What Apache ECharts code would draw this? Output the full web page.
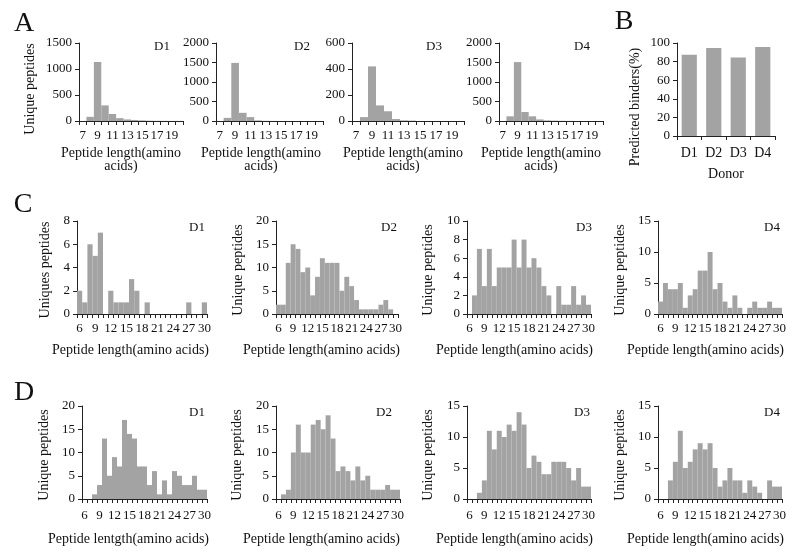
<!DOCTYPE html>
<html><head><meta charset="utf-8">
<script src="https://cdn.jsdelivr.net/npm/echarts@6/dist/echarts.min.js"></script>
<style>html,body{margin:0;padding:0;background:#fff}#c{width:800px;height:553px}</style>
</head><body><div id="c"></div>
<script>
// ---------- DATA ----------
const lengthsA = ['7','8','9','10','11','12','13','14','15','16','17','18','19','20'];
const lengthsCD = ['6','7','8','9','10','11','12','13','14','15','16','17','18','19','20','21','22','23','24','25','26','27','28','29','30'];
const donors = ['D1','D2','D3','D4'];

// Panel A: all peptides per length
const aD1 = [0, 80, 1135, 300, 135, 55, 30, 20, 12, 6, 4, 3, 2, 2];
const aD2 = [0, 80, 1490, 210, 100, 15, 5, 3, 0, 0, 0, 0, 0, 0];
const aD3 = [0, 30, 420, 120, 75, 15, 5, 3, 0, 0, 0, 0, 0, 0];
const aD4 = [0, 120, 1510, 230, 120, 40, 15, 10, 5, 3, 0, 0, 0, 0];

// Panel B: predicted binders (%)
const binders = [87.5, 94.6, 84.3, 95.7];

// Panel C
const cD1 = [2,1,6,5,7,0,2,1,1,1,3,2,0,1,0,0,0,0,0,0,0,1,0,0,1];
const cD2 = [2,2,11,15,14,9,10,4,8,12,11,11,11,5,8,6,3,1,1,1,1,2,3,1,0];
const cD3 = [0,2,7,3,7,3,5,5,5,8,5,8,5,6,5,3,2,0,3,1,1,3,1,2,1];
const cD4 = [2,5,4,4,5,1,3,4,7,7,10,4,5,2,1,3,1,0,1,2,1,1,2,1,1];

// Panel D
const dD1 = [0,0,1,3,13,5,9,7,17,14,13,7,7,3,6,1,4,1,6,5,3,3,5,2,2];
const dD2 = [0,1,2,10,16,10,10,16,17,15,18,13,6,7,6,4,7,4,5,2,2,2,3,2,2];
const dD3 = [0,0,1,3,11,8,11,10,12,11,14,12,5,7,6,4,4,6,6,6,5,3,5,2,2];
const dD4 = [0,0,3,6,11,5,6,8,9,8,9,5,2,3,5,3,3,1,3,2,1,0,3,2,2];

// Axis tick settings
const yMaxA = [1500, 2000, 600, 2000];
const yStepA = [500, 500, 200, 500];
const yMaxC = [8, 20, 10, 15];
const yStepC = [2, 5, 2, 5];
const yMaxD = [20, 20, 15, 15];
const yStepD = [5, 5, 5, 5];

// ---------- LAYOUT ----------
const FONT = "'Liberation Serif','Times New Roman',serif";
const BAR = '#a3a3a3';
const AX = '#222';
const panels = [
  // row A
  {l:79, t:43, w:104, h:78, cats:lengthsA, data:aD1, max:yMaxA[0], step:yStepA[0], li:1, m:8},
  {l:216, t:43, w:107, h:78, cats:lengthsA, data:aD2, max:yMaxA[1], step:yStepA[1], li:1, m:8},
  {l:352, t:43, w:112, h:78, cats:lengthsA, data:aD3, max:yMaxA[2], step:yStepA[2], li:1, m:8},
  {l:499, t:43, w:104, h:78, cats:lengthsA, data:aD4, max:yMaxA[3], step:yStepA[3], li:1, m:8},
  // B
  {l:677, t:43, w:98, h:93, cats:donors, data:binders, max:100, step:20, li:0, b:true, m:10},
  // row C
  {l:77, t:221, w:130, h:93, cats:lengthsCD, data:cD1, max:yMaxC[0], step:yStepC[0], li:2, m:8},
  {l:276, t:221, w:122, h:93, cats:lengthsCD, data:cD2, max:yMaxC[1], step:yStepC[1], li:2, m:8},
  {l:467, t:221, w:124, h:93, cats:lengthsCD, data:cD3, max:yMaxC[2], step:yStepC[2], li:2, m:8},
  {l:658, t:221, w:124, h:93, cats:lengthsCD, data:cD4, max:yMaxC[3], step:yStepC[3], li:2, m:8},
  // row D
  {l:82, t:406, w:125, h:93, cats:lengthsCD, data:dD1, max:yMaxD[0], step:yStepD[0], li:2, m:10},
  {l:276, t:406, w:124, h:93, cats:lengthsCD, data:dD2, max:yMaxD[1], step:yStepD[1], li:2, m:10},
  {l:467, t:406, w:124, h:93, cats:lengthsCD, data:dD3, max:yMaxD[2], step:yStepD[2], li:2, m:10},
  {l:658, t:406, w:124, h:93, cats:lengthsCD, data:dD4, max:yMaxD[3], step:yStepD[3], li:2, m:10}
];

const grid = [], xAxis = [], yAxis = [], series = [];
panels.forEach((p, i) => {
  grid.push({left:p.l, top:p.t, width:p.w, height:p.h, containLabel:false});
  xAxis.push({
    type:'category', gridIndex:i, data:p.cats, boundaryGap:true,
    axisLine:{show:true, lineStyle:{color:AX, width:1}},
    axisTick:{show:true, interval:0, length:4, alignWithLabel:false, lineStyle:{color:AX}},
    axisLabel:{interval:p.li, margin:p.m, color:'#111', fontFamily:FONT, fontSize: p.b ? 14 : 13, hideOverlap:false},
    splitLine:{show:false}
  });
  yAxis.push({
    type:'value', gridIndex:i, min:0, max:p.max, interval:p.step,
    axisLine:{show:true, lineStyle:{color:AX, width:1}},
    axisTick:{show:true, length:4, lineStyle:{color:AX}},
    axisLabel:{margin:7, color:'#111', fontFamily:FONT, fontSize:13, formatter: v => String(v)},
    splitLine:{show:false}
  });
  series.push({
    type:'bar', xAxisIndex:i, yAxisIndex:i, data:p.data,
    itemStyle:{color:BAR},
    barCategoryGap: p.b ? '38%' : '0%',
    silent:true, animation:false
  });
});

function txt(text, x, y, opt) {
  opt = opt || {};
  return {
    type:'text', x:x, y:y, rotation: opt.rot ? Math.PI/2 : 0, silent:true,
    style:{
      text:text, fill:'#111',
      font: (opt.size || 14) + 'px ' + FONT,
      align: opt.align || 'center', textAlign: opt.align || 'center',
      verticalAlign:'middle', textVerticalAlign:'middle',
      lineHeight: opt.lh || 14
    }
  };
}

const graphics = [
  // panel letters
  txt('A', 24, 24, {size:28}), txt('B', 624, 22, {size:28}),
  txt('C', 23, 205, {size:28}), txt('D', 24, 393, {size:28}),
  // donor tags
  txt('D1', 170, 47, {align:'right', size:13}), txt('D2', 310, 47, {align:'right', size:13}),
  txt('D3', 442, 47, {align:'right', size:13}), txt('D4', 590, 47, {align:'right', size:13}),
  txt('D1', 205, 228, {align:'right', size:13}), txt('D2', 397, 228, {align:'right', size:13}),
  txt('D3', 592, 228, {align:'right', size:13}), txt('D4', 780, 228, {align:'right', size:13}),
  txt('D1', 205, 413, {align:'right', size:13}), txt('D2', 392, 413, {align:'right', size:13}),
  txt('D3', 590, 413, {align:'right', size:13}), txt('D4', 780, 413, {align:'right', size:13}),
  // y titles
  txt('Unique peptides', 30, 89, {rot:true}),
  txt('Predicted binders(%)', 635, 107, {rot:true}),
  txt('Uniques peptides', 45, 270, {rot:true}),
  txt('Unique peptides', 238, 270, {rot:true}),
  txt('Unique peptides', 428, 270, {rot:true}),
  txt('Unique peptides', 620, 270, {rot:true}),
  txt('Unique peptides', 44, 455, {rot:true}),
  txt('Unique peptides', 237, 455, {rot:true}),
  txt('Unique peptides', 428, 455, {rot:true}),
  txt('Unique peptides', 620, 455, {rot:true}),
  // x titles row A
  txt('Peptide length(amino\nacids)', 121, 160, {lh:13}),
  txt('Peptide length(amino\nacids)', 261, 160, {lh:13}),
  txt('Peptide length(amino\nacids)', 403, 160, {lh:13}),
  txt('Peptide length(amino\nacids)', 541, 160, {lh:13}),
  txt('Donor', 726, 174),
  // row C
  txt('Peptide length(amino acids)', 209, 350, {align:'right'}),
  txt('Peptide length(amino acids)', 400, 350, {align:'right'}),
  txt('Peptide length(amino acids)', 593, 350, {align:'right'}),
  txt('Peptide length(amino acids)', 784, 350, {align:'right'}),
  // row D
  txt('Peptide lentgth(amino acids)', 209, 539, {align:'right'}),
  txt('Peptide length(amino acids)', 400, 539, {align:'right'}),
  txt('Peptide length(amino acids)', 593, 539, {align:'right'}),
  txt('Peptide length(amino acids)', 784, 539, {align:'right'})
];

const chart = echarts.init(document.getElementById('c'), null, {renderer:'canvas'});
chart.setOption({
  animation:false,
  backgroundColor:'#fff',
  textStyle:{fontFamily:FONT},
  grid:grid, xAxis:xAxis, yAxis:yAxis, series:series,
  graphic:graphics
});
</script>
</body></html>
